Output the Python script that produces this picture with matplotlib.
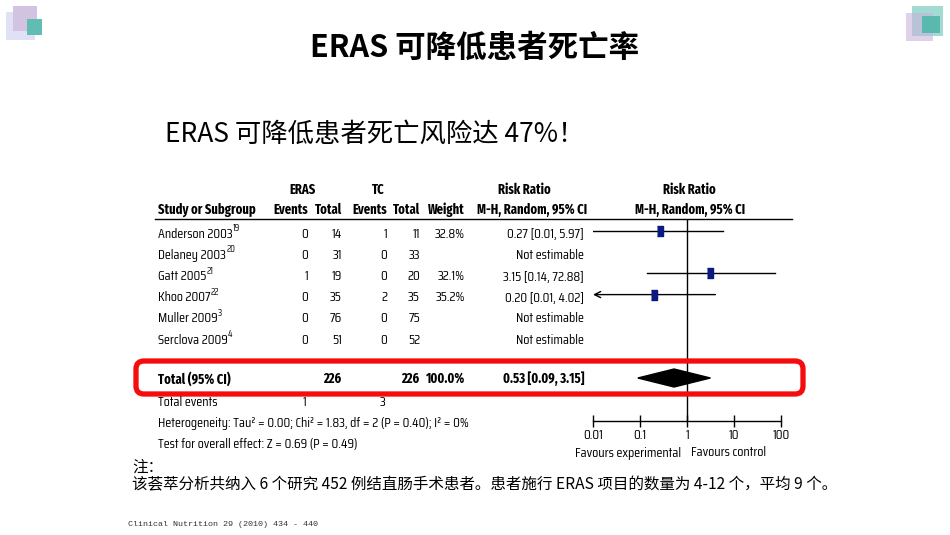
import numpy as np
import matplotlib
matplotlib.use("Agg")
import matplotlib.pyplot as plt
from matplotlib import font_manager as fm
from matplotlib.patches import Rectangle, FancyBboxPatch, Polygon

# data
studies = ["Anderson 2003", "Delaney 2003", "Gatt 2005", "Khoo 2007", "Muller 2009", "Serclova 2009"]
refs = ["19", "20", "21", "22", "3", "4"]
eras_events = [0, 0, 1, 0, 0, 0]
eras_total = [14, 31, 19, 35, 76, 51]
tc_events = [1, 0, 0, 2, 0, 0]
tc_total = [11, 33, 20, 35, 75, 52]
weights = ["32.8%", "", "32.1%", "35.2%", "", ""]
rr = [0.27, np.nan, 3.15, 0.20, np.nan, np.nan]
rr_lo = [0.01, np.nan, 0.14, 0.01, np.nan, np.nan]
rr_hi = [5.97, np.nan, 72.88, 4.02, np.nan, np.nan]
# Khoo's lower bound runs off the axis (drawn as an arrow)
clipped = [False, False, False, True, False, False]
total_rr, total_lo, total_hi = 0.53, 0.09, 3.15
total_weight = "100.0%"
axis_ticks = [0.01, 0.1, 1, 10, 100]
axis_labels = ["0.01", "0.1", "1", "10", "100"]
hetero = "Heterogeneity: Tau² = 0.00; Chi² = 1.83, df = 2 (P = 0.40); I² = 0%"
overall = "Test for overall effect: Z = 0.69 (P = 0.49)"

TXT = "#000000"
CJK = ["Noto Sans CJK SC", "DejaVu Sans"]

fig = plt.figure(figsize=(9.5, 5.35), dpi=100)
fig.patch.set_facecolor("white")
renderer = fig.canvas.get_renderer()


def text_width(prop, s):
    t = fig.text(0, 0, s, fontproperties=prop)
    w = t.get_window_extent(renderer).width
    t.remove()
    return w


def narrow_prop(bold, sample, target_px, want_size=9.8):
    """ Picks the installed narrow sans face that, once sized so that `sample`
    spans target_px pixels, comes closest to want_size points. """
    cands = []
    for f in fm.fontManager.ttflist:
        if f.style != "normal":
            continue
        name = f.name.lower()
        path = f.fname.lower()
        if "mono" in name or "cjk" in name or ("serif" in name and "sans" not in name):
            continue
        cond = f.stretch in ("condensed", "semi-condensed") or "narrow" in name \
            or "condensed" in name or "condensed" in path or "narrow" in path
        if not cond:
            continue
        w = f.weight if isinstance(f.weight, (int, float)) else fm.weight_dict.get(f.weight, 400)
        if bold and not (650 <= w <= 720):
            continue
        if not bold and not (380 <= w <= 420):
            continue
        cands.append(f.fname)
    cands.append(None)
    best, best_err = None, 1e9
    for fname in cands:
        if fname:
            prop = fm.FontProperties(fname=fname, size=10)
        else:
            prop = fm.FontProperties(family="Liberation Sans",
                                     weight="bold" if bold else "normal", size=10)
        try:
            size = 10 * target_px / text_width(prop, sample)
        except Exception:
            continue
        err = abs(size - want_size)
        if fname is None:
            err += 1.0
        if err < best_err:
            best, best_err = prop.copy(), err
            best.set_size(min(12.0, size))
    return best


REG = narrow_prop(False, hetero, 310)
BOLD = narrow_prop(True, "M-H, Random, 95% CI", 110)
SUP = REG.copy()
SUP.set_size(REG.get_size() * 0.7)

# forest axes, placed in pixel units of the slide
fp = fig.add_axes([593 / 950, 1 - 421 / 535, (781 - 593) / 950, (421 - 219) / 535])
fp.set_xscale("log")
fp.set_xlim(0.01, 100)
fp.set_ylim(421, 219)
fp.patch.set_alpha(0)
for s in ["left", "right", "top"]:
    fp.spines[s].set_visible(False)
fp.spines["bottom"].set_linewidth(1)
fp.spines["bottom"].set_color("k")
fp.set_xticks(axis_ticks)
fp.set_xticklabels(axis_labels, fontproperties=REG, color=TXT)
fp.minorticks_off()
fp.tick_params(axis="x", direction="inout", length=9, width=1, pad=1)
fp.set_yticks([])
fp.axvline(1, color="k", lw=1)

# page overlay for text and decorations
page = fig.add_axes([0, 0, 1, 1])
page.set_xlim(0, 950)
page.set_ylim(535, 0)
page.axis("off")
page.patch.set_alpha(0)
page.set_zorder(2)

# corner decorations
for x, y, w, h, c, a in [(6, 12, 29, 28, "#e1e1f5", 1), (13, 6, 24, 25, "#d3c3e3", 1),
                         (27, 19, 15, 16, "#5fbdb4", 1),
                         (912, 6, 31, 30, "#a3dbd3", 1), (906, 13, 27, 28, "#c8b4dc", 0.6),
                         (922, 16, 18, 17, "#5ab9af", 1)]:
    page.add_patch(Rectangle((x, y), w, h, color=c, alpha=a, lw=0))

page.text(475, 48, "ERAS 可降低患者死亡率", family=CJK, fontsize=22, fontweight="bold",
          ha="center", va="center", color="k")
page.text(165, 134, "ERAS 可降低患者死亡风险达 47%！", family=CJK, fontsize=19,
          ha="left", va="center", color="k")

# headers
hb = dict(fontproperties=BOLD, color=TXT, va="center")
page.text(302, 190, "ERAS", ha="center", **hb)
page.text(378, 190, "TC", ha="center", **hb)
page.text(524, 190, "Risk Ratio", ha="center", **hb)
page.text(689, 190, "Risk Ratio", ha="center", **hb)
page.text(158, 210, "Study or Subgroup", ha="left", **hb)
page.text(308, 210, "Events", ha="right", **hb)
page.text(342, 210, "Total", ha="right", **hb)
page.text(387, 210, "Events", ha="right", **hb)
page.text(420, 210, "Total", ha="right", **hb)
page.text(465, 210, "Weight", ha="right", **hb)
page.text(587, 210, "M-H, Random, 95% CI", ha="right", **hb)
page.text(690, 210, "M-H, Random, 95% CI", ha="center", **hb)
page.plot([155, 792], [219, 219], color="k", lw=1)

# study rows
tn = dict(fontproperties=REG, color=TXT, va="center")
for i, name in enumerate(studies):
    y = 234 + 21.2 * i
    t = page.text(158, y, name, ha="left", **tn)
    page.annotate(refs[i], xy=(1.005, 0.9), xycoords=t, fontproperties=SUP,
                  color=TXT, ha="left", va="center")
    page.text(308, y, str(eras_events[i]), ha="right", **tn)
    page.text(342, y, str(eras_total[i]), ha="right", **tn)
    page.text(387, y, str(tc_events[i]), ha="right", **tn)
    page.text(420, y, str(tc_total[i]), ha="right", **tn)
    page.text(465, y, weights[i], ha="right", **tn)
    if np.isnan(rr[i]):
        page.text(584, y, "Not estimable", ha="right", **tn)
        continue
    page.text(584, y, "%.2f [%.2f, %.2f]" % (rr[i], rr_lo[i], rr_hi[i]), ha="right", **tn)
    ym = y - 3
    if clipped[i]:
        fp.annotate("", xy=(0.01, ym), xytext=(rr_hi[i], ym),
                    arrowprops=dict(arrowstyle="->", color="k", lw=1,
                                    shrinkA=0, shrinkB=0, mutation_scale=11))
    else:
        fp.plot([rr_lo[i], rr_hi[i]], [ym, ym], color="k", lw=1)
    fp.plot(rr[i], ym, marker=[(-0.3, -0.5), (0.3, -0.5), (0.3, 0.5), (-0.3, 0.5)],
            ms=7.5, color="#0b1a80", mec="#0b1a80", zorder=3)

# total row
ty = 379
tb = dict(fontproperties=BOLD, color=TXT, va="center")
page.text(158, ty, "Total (95% CI)", ha="left", **tb)
page.text(341, ty, str(sum(eras_total)), ha="right", **tb)
page.text(419, ty, str(sum(tc_total)), ha="right", **tb)
page.text(465, ty, total_weight, ha="right", **tb)
page.text(584, ty, "%.2f [%.2f, %.2f]" % (total_rr, total_lo, total_hi), ha="right", **tb)
fp.add_patch(Polygon([(total_lo, ty - 1), (total_rr, ty - 10), (total_hi, ty - 1), (total_rr, ty + 8)],
                     closed=True, color="k", zorder=3))

page.text(158, 403, "Total events", ha="left", **tn)
page.text(304, 403, str(sum(eras_events)), ha="center", **tn)
page.text(383, 403, str(sum(tc_events)), ha="center", **tn)
page.text(158, 424, hetero, ha="left", **tn)
page.text(158, 445, overall, ha="left", **tn)
page.text(628, 453, "Favours experimental", ha="center", **tn)
page.text(729, 453, "Favours control", ha="center", **tn)

# red highlight around the total row
page.add_patch(FancyBboxPatch((136, 361), 667, 33, boxstyle="round,pad=0,rounding_size=8",
                              fill=False, ec="#f50d0d", lw=3.8))

page.text(132, 467, "注：", family=CJK, fontsize=11.2, ha="left", va="center", color="k")
page.text(132, 485, "该荟萃分析共纳入 6 个研究 452 例结直肠手术患者。患者施行 ERAS 项目的数量为 4-12 个，平均 9 个。",
          family=CJK, fontsize=11.2, ha="left", va="center", color="k")
page.text(128, 524, "Clinical Nutrition 29 (2010) 434 - 440", family=["Liberation Mono", "DejaVu Sans Mono"],
          fontsize=6, ha="left", va="center", color="#333333")

fig.savefig("out.png", dpi=100)
